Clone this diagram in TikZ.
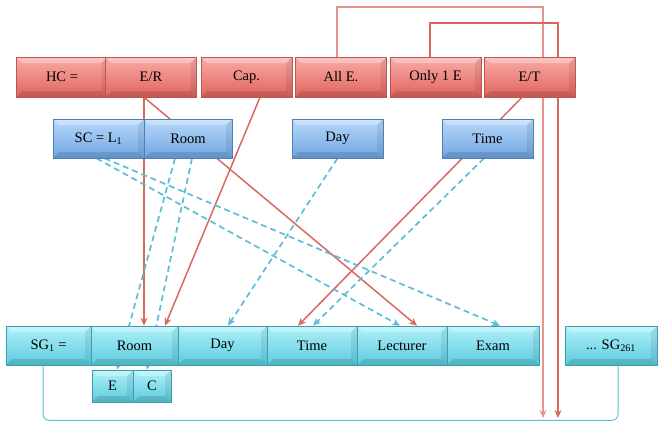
\documentclass[tikz,border=0pt]{standalone}
\usepackage{fontspec}
\setmainfont{Liberation Serif}
\usepackage{tikz}
\usetikzlibrary{arrows.meta,backgrounds}
\definecolor{hcred}{RGB}{225,100,94}
\definecolor{hcredtop}{RGB}{249,172,167}
\definecolor{hcredline}{RGB}{192,86,82}
\definecolor{scblue}{RGB}{112,166,226}
\definecolor{scbluetop}{RGB}{184,216,249}
\definecolor{scblueline}{RGB}{76,126,186}
\definecolor{sgcyan}{RGB}{92,204,222}
\definecolor{sgcyantop}{RGB}{176,240,249}
\definecolor{sgcyanline}{RGB}{56,160,180}
\definecolor{linkred}{RGB}{217,104,95}
\definecolor{linkpink}{RGB}{230,148,144}
\definecolor{linkcyan}{RGB}{92,190,214}

\begin{document}
\begin{tikzpicture}[x=1pt, y=-1pt,
  box/.style={rectangle, inner sep=0pt, minimum height=39pt, line width=0.6pt,
    font=\fontsize{14.5}{17}\selectfont,
    path picture={
      \fill[white, opacity=.3] (path picture bounding box.north west) -- (path picture bounding box.north east)
        -- ([shift={(-6pt,-6pt)}]path picture bounding box.north east) -- ([shift={(6pt,-6pt)}]path picture bounding box.north west) -- cycle;
      \fill[black, opacity=.12] (path picture bounding box.south west) -- (path picture bounding box.south east)
        -- ([shift={(-6pt,6pt)}]path picture bounding box.south east) -- ([shift={(6pt,6pt)}]path picture bounding box.south west) -- cycle;
      \fill[black, opacity=.08] (path picture bounding box.north east) -- (path picture bounding box.south east)
        -- ([shift={(-6pt,6pt)}]path picture bounding box.south east) -- ([shift={(-6pt,-6pt)}]path picture bounding box.north east) -- cycle;
    }},
  hcbox/.style={box, minimum width=91pt, minimum height=40pt, top color=hcredtop, bottom color=hcred, draw=hcredline},
  scbox/.style={box, minimum width=91pt, top color=scbluetop, bottom color=scblue, draw=scblueline},
  sgbox/.style={box, minimum width=90pt, top color=sgcyantop, bottom color=sgcyan, draw=sgcyanline},
  redlink/.style={linkred, line width=1.5pt, -{Stealth[length=8pt,width=7pt]}},
  bluelink/.style={linkcyan, line width=1.7pt, dash pattern=on 6pt off 4pt, -{Stealth[length=8pt,width=7pt]}},
]
\useasboundingbox (0,0) rectangle (659,424);

% Hard constraints
\node[hcbox] (hc) at (62,77) {HC =};
\node[hcbox] (er) at (151,77) {E/R};
\node[hcbox] (cap) at (246.5,77) {Cap.};
\node[hcbox] (alle) at (341,77) {All E.};
\node[hcbox] (onee) at (435.5,77) {Only 1 E};
\node[hcbox] (et) at (529.5,77) {E/T};

% Soft constraints
\node[scbox] (sc) at (98.5,138.5) {SC = L\textsubscript{1}};
\node[scbox, minimum width=88pt] (scroom) at (188,138.5) {Room};
\node[scbox] (scday) at (337.5,138.5) {Day};
\node[scbox] (sctime) at (487.5,138.5) {Time};

% Solution genes
\node[sgbox, minimum width=85pt] (sg) at (48.5,345.5) {SG\textsubscript{1} =};
\node[sgbox, minimum width=87pt] (sgroom) at (134.5,345.5) {Room};
\node[sgbox, minimum width=89pt] (sgday) at (222.5,345.5) {Day};
\node[sgbox] (sgtime) at (312,345.5) {Time};
\node[sgbox] (sglect) at (402,345.5) {Lecturer};
\node[sgbox, minimum width=92pt] (sgexam) at (493,345.5) {Exam};
\node[sgbox, minimum width=92pt] (sgend) at (611,345.5) {... SG\textsubscript{261}};
\node[sgbox, minimum width=41pt, minimum height=32pt] (sge) at (112.5,386) {E};
\node[sgbox, minimum width=38pt, minimum height=32pt] (sgc) at (152,386) {C};

\coordinate (alleend) at (543,418);
\coordinate (oneeend) at (558,418);

\begin{scope}[on background layer]
% HC links
\draw[redlink] ([xshift=-7pt]er.south) -- ([xshift=9.5pt]sgroom.north);
\draw[redlink] ([xshift=-7pt]er.south) -- ([xshift=15pt]sglect.north);
\draw[redlink] ([xshift=13.5pt]cap.south) -- ([xshift=30.5pt]sgroom.north);
\draw[redlink] ([xshift=-7.5pt]et.south) -- ([xshift=-14pt]sgtime.north);
\draw[redlink, linkpink, line width=2pt] ([xshift=-4pt]alle.north) |- (543,7) -- (alleend);
\draw[redlink, line width=1.2pt] ([xshift=-5.5pt]onee.north) |- (558,23) -- (oneeend);
% SC links
\draw[bluelink] ([xshift=-2pt]sc.south) -- ([xshift=-2pt]sglect.north);
\draw[bluelink] ([xshift=6pt]sc.south) -- ([xshift=7pt]sgexam.north);
\draw[bluelink] ([xshift=-13pt]scroom.south) -- ([xshift=4.5pt]sge.north);
\draw[bluelink] ([xshift=4pt]scroom.south) -- ([xshift=-5pt]sgc.north);
\draw[bluelink] (scday.south) -- ([xshift=5.5pt]sgday.north);
\draw[bluelink] ([xshift=-3.5pt]sctime.south) -- ([xshift=1pt]sgtime.north);
% SG1 ... SG261
\draw[linkcyan, line width=1pt, rounded corners=6pt] ([xshift=-5.5pt]sg.south) -- ++(0,55) -| ([xshift=7pt]sgend.south);
\end{scope}
\end{tikzpicture}
\end{document}
